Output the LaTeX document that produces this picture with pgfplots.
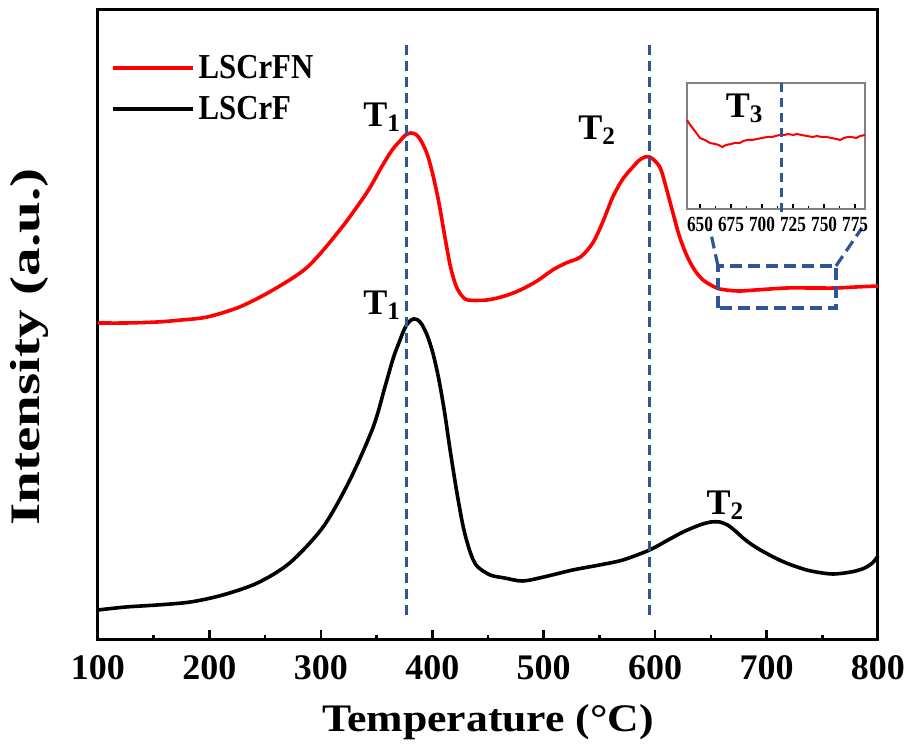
\documentclass[border=0pt]{standalone}
\usepackage{fontspec}
\setmainfont{Liberation Serif}
\newfontfamily\condfont[FakeStretch=0.8]{Liberation Serif}
\newfontfamily\legfont[FakeStretch=0.88]{Liberation Serif}
\usepackage{pgfplots}
\pgfplotsset{compat=1.18}
\definecolor{dblue}{RGB}{47,85,151}
\definecolor{tred}{RGB}{255,0,0}
\begin{document}
\begin{tikzpicture}
\path[use as bounding box] (-49pt,-54.5pt) rectangle (406.5pt,320pt);
\begin{axis}[
  scale only axis, width=390pt, height=315pt,
  xmin=100, xmax=800, ymin=0, ymax=630,
  axis line style={line width=1.5pt},
  xtick={100,200,...,800}, minor x tick num=1,
  xtick pos=bottom, tick align=inside,
  major tick length=5pt, minor tick length=2.5pt,
  every tick/.style={line width=1.3pt, black},
  ytick=\empty,
  /pgf/number format/assume math mode=true,
  xticklabel style={font=\bfseries\fontsize{18}{18}\selectfont, yshift=-4pt},
  xlabel={\scalebox{1.12}[1]{Temperature (°C)}},
  ylabel={\scalebox{1.36}[1]{Intensity (a.u.)}},
  xlabel style={font=\bfseries\fontsize{19.5}{20}\selectfont, at={(axis description cs:0.5,-0.130)}, anchor=center},
  ylabel style={font=\bfseries\fontsize{21}{22}\selectfont, at={(axis description cs:-0.0885,0.465)}, anchor=center},
  legend style={at={(axis description cs:0.008,0.942)}, anchor=north west, draw=none, fill=none,
    font=\legfont\bfseries\fontsize{17.5}{18}\selectfont, row sep=3.5pt},
  legend cell align=left,
  legend image code/.code={\draw[#1, line width=2pt] (0pt,0pt) -- (40pt,0pt);},
  clip=false,
]
\addplot[tred, line width=1.8pt, smooth] coordinates {
(100,317)(125,317)(153,318)(175,320)(198,323)(227,333)(257,350)(288,373)(317,410)
(341,447)(355,474)(364,490)(371,499)(376,505)(381,507)(386,505)(391,497)(396,484)
(401,463)(406,437)(411,405)(416,375)(421,355)(426,345)(432,340)(449,340)(465,344)
(479,350)(494,359)(508,370)(520,377)(533,383)(544,397)(553,418)(562,443)(571,461)
(580,473)(586,480)(591,483)(595,483)(600,479)(605,471)(610,452)(616,427)(622,403)
(629,383)(636,369)(643,360)(650,355)(658,351)(674,349)(690,350)(718,352)(740,352)
(763,352)(780,353)(800,354)};
\addlegendentry{LSCrFN}
\addplot[black, line width=1.8pt, smooth] coordinates {
(100,30)(125,33)(153,35)(183,38)(212,45)(243,57)(272,77)(302,113)(326,160)(347,213)
(358,255)(365,282)(370,297)(375,311)(379,318)(383,321)(387,320)(391,315)(396,303)
(401,285)(406,260)(411,228)(416,190)(422,148)(428,112)(434,88)(440,74)(452,65)
(465,62)(481,59)(500,63)(526,70)(550,75)(571,80)(595,90)(610,99)(625,108)(640,115)
(650,118)(658,118)(665,115)(672,109)(680,101)(690,93)(706,83)(720,76)(736,70)
(750,67)(760,66)(770,67)(780,69)(788,72)(795,77)(800,84)};
\addlegendentry{LSCrF}
% dashed reference lines
\draw[dblue, line width=1.5pt, dash pattern=on 5pt off 3pt] (axis cs:376.5,25) -- (axis cs:376.5,595);
\draw[dblue, line width=1.5pt, dash pattern=on 5pt off 3pt] (axis cs:594.5,25) -- (axis cs:594.5,595);
% zoom rectangle and connectors
\draw[dblue, line width=1.6pt, dash pattern=on 6pt off 3pt] (axis cs:656.4,332) rectangle (axis cs:762.3,374);
\draw[dblue, line width=1.6pt, dash pattern=on 6pt off 3pt] (axis cs:656.4,374) -- (axis cs:649,412);
\draw[dblue, line width=1.6pt, dash pattern=on 6pt off 3pt] (axis cs:762.3,374) -- (axis cs:785.6,412);
% labels
\node[font=\bfseries\fontsize{18}{18}\selectfont] at (axis cs:355,523) {T\textsubscript{1}};
\node[font=\bfseries\fontsize{18}{18}\selectfont] at (axis cs:355,335) {T\textsubscript{1}};
\node[font=\bfseries\fontsize{18}{18}\selectfont] at (axis cs:548,510) {T\textsubscript{2}};
\node[font=\bfseries\fontsize{18}{18}\selectfont] at (axis cs:663,135) {T\textsubscript{2}};
\end{axis}
\begin{axis}[
  at={(294.5pt,215.5pt)}, anchor=south west,
  scale only axis, width=89pt, height=63pt,
  xmin=639.5, xmax=783, ymin=0, ymax=126,
  axis line style={line width=0.6pt, gray},
  axis background/.style={fill=white},
  xtick={650,675,...,775}, minor x tick num=1,
  xtick pos=bottom, tick align=inside,
  major tick length=2.5pt, minor tick length=1.5pt,
  every tick/.style={line width=0.6pt, black},
  ytick=\empty,
  /pgf/number format/assume math mode=true,
  xticklabel style={font=\condfont\bfseries\fontsize{10.8}{11}\selectfont, yshift=-0.5pt},
  clip=false,
]
\addplot[tred, line width=1pt] coordinates {
(639.5,89)(641,86)(644,81)(647,76)(650,71)(654,69)(658,66)(662,65)(665,64)(668,62)
(671,64)(675,65)(678,66)(682,66)(685,68)(688,69)(692,69)(696,70)(700,71)(704,72)
(708,72)(711,73)(714,74)(718,74)(721,75)(725,74)(728,75)(732,74)(736,73)(741,72)
(744,73)(748,72)(752,72)(756,71)(760,70)(763,69)(766,71)(769,72)(772,72)(776,71)(779,73)(783,74)};
\draw[dblue, line width=1.5pt, dash pattern=on 4.5pt off 3pt] (axis cs:716,126) -- (axis cs:716,-9);
\node[font=\bfseries\fontsize{18}{18}\selectfont] at (axis cs:686,101) {T\textsubscript{3}};
\end{axis}
\end{tikzpicture}
\end{document}
